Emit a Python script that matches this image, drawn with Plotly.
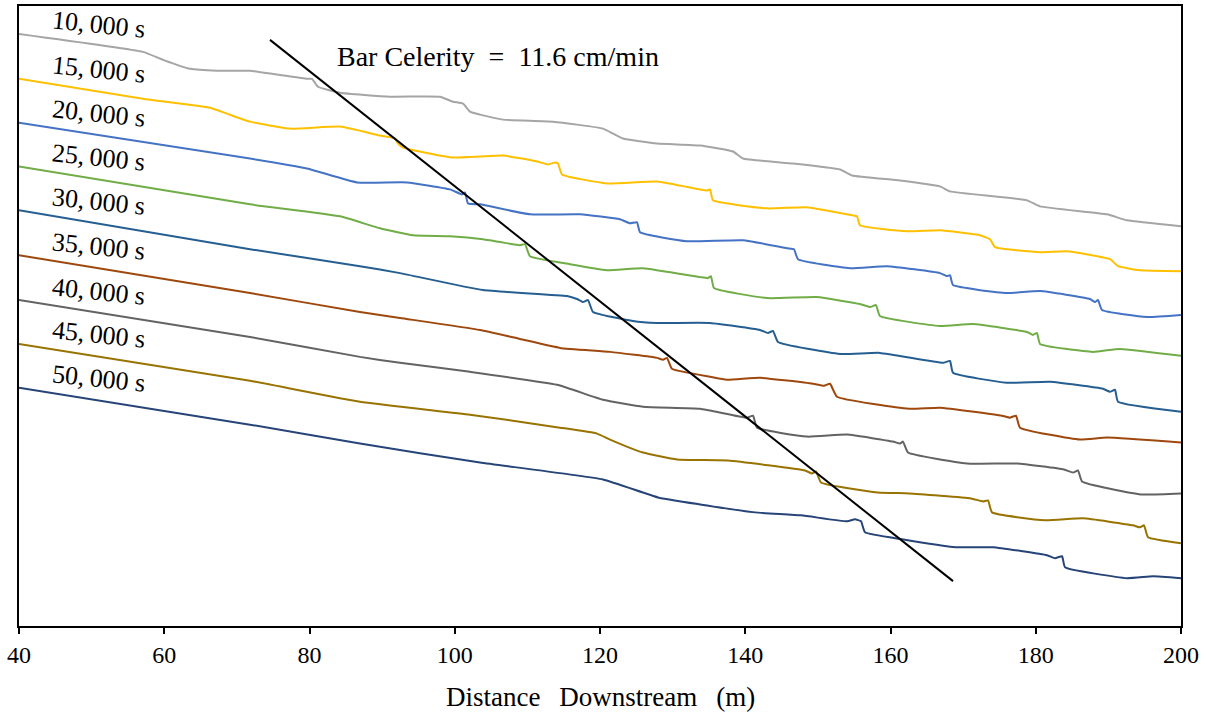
import plotly.graph_objects as go

# ---------------- data (distance downstream in m, bed elevation in arbitrary units) -------------
labels = ["10,000 s", "15,000 s", "20,000 s", "25,000 s", "30,000 s",
          "35,000 s", "40,000 s", "45,000 s", "50,000 s"]
colors = ["#A5A5A5", "#FFC000", "#4472C4", "#70AD47", "#255E91",
          "#9E480E", "#636363", "#997300", "#264478"]

x_10000 = [40.0, 57.07, 59.83, 63.55, 67.26, 71.81, 79.66, 80.34, 81.17, 84.20, 91.08, 97.97,
           99.76, 101.14, 102.10, 103.48, 106.64, 113.53, 120.41, 121.79, 123.17, 127.85, 133.77,
           138.31, 139.69, 146.57, 153.05, 154.70, 161.31, 166.81, 168.19, 178.80, 180.59,
           189.81, 192.56, 200.0]
z_10000 = [594, 576, 568, 559, 557, 557, 549, 549, 541, 535, 531, 531, 526, 524, 516, 513, 508,
           506, 499, 494, 489, 484, 482, 476, 469, 464, 458, 452, 447, 441, 436, 427, 421, 413,
           407, 401]

x_15000 = [40.0, 57.07, 66.30, 68.64, 71.81, 77.31, 84.20, 89.71, 91.77, 92.19, 92.87, 99.76,
           103.48, 106.64, 111.33, 112.84, 113.80, 114.22, 114.77, 120.96, 127.85, 133.77,
           134.73, 135.15, 135.56, 143.00, 148.50, 154.01, 154.84, 155.39, 155.80, 162.27,
           166.81, 172.32, 173.70, 174.39, 180.59, 184.30, 190.22, 191.33, 194.35, 200.0]
z_15000 = [549, 529, 520, 514, 506, 499, 501, 492, 489, 484, 480, 470, 471, 472, 466, 463, 465,
           464, 453, 444, 446, 438, 437, 438, 427, 419, 420, 413, 412, 411, 402, 396, 397, 392,
           388, 380, 375, 376, 368, 361, 357, 356]

x_20000 = [40.0, 71.81, 79.66, 86.54, 93.43, 99.35, 101.00, 101.41, 101.82, 103.48, 110.36,
           117.25, 122.75, 124.13, 125.10, 125.51, 131.98, 139.69, 145.75, 146.71, 147.26,
           154.42, 159.52, 166.81, 167.78, 168.19, 168.61, 176.04, 180.59, 187.47, 188.16,
           188.57, 189.12, 195.32, 200.0]
z_20000 = [505, 469, 459, 445, 445, 438, 433, 435, 424, 423, 413, 413, 408, 404, 405, 395, 386,
           387, 379, 378, 368, 359, 361, 354, 351, 352, 342, 334, 336, 328, 325, 327, 317, 310,
           312]

x_25000 = [40.0, 71.81, 84.20, 89.71, 94.25, 99.35, 103.89, 108.02, 108.98, 109.67, 110.36,
           115.87, 120.96, 125.92, 133.77, 134.87, 135.28, 135.70, 143.00, 149.88, 155.80,
           157.18, 158.00, 158.55, 166.81, 171.36, 178.80, 179.62, 180.17, 180.59, 187.88,
           191.60, 200.0]
z_25000 = [461, 423, 411, 399, 392, 391, 388, 383, 382, 383, 371, 363, 357, 359, 350, 349, 351,
           339, 329, 330, 323, 320, 322, 311, 301, 303, 295, 292, 294, 283, 275, 278, 271]

x_30000 = [40.0, 71.81, 86.95, 92.46, 103.89, 115.46, 116.83, 117.66, 118.35, 119.04, 124.54,
           127.85, 135.15, 142.03, 143.13, 143.82, 144.51, 153.05, 158.55, 167.23, 168.19,
           168.61, 176.04, 181.96, 189.26, 190.22, 190.91, 191.33, 200.0]
z_30000 = [417, 378, 361, 354, 337, 331, 328, 325, 327, 315, 306, 304, 304, 297, 294, 296, 285,
           273, 274, 264, 266, 254, 244, 245, 238, 235, 237, 225, 215]

x_35000 = [40.0, 71.81, 86.95, 92.46, 103.48, 108.98, 114.49, 121.38, 127.85, 128.68, 129.23,
           129.91, 135.15, 137.49, 142.03, 149.33, 150.84, 151.67, 152.63, 162.55, 166.81,
           175.35, 176.45, 177.28, 177.83, 186.09, 189.81, 200.0]
z_35000 = [372, 334, 315, 309, 297, 288, 279, 275, 269, 267, 269, 258, 250, 247, 249, 243, 241,
           243, 230, 218, 219, 211, 209, 211, 199, 187, 189, 184]

x_40000 = [40.0, 71.81, 86.95, 92.46, 102.10, 114.08, 120.41, 125.92, 133.77, 140.24, 141.07,
           141.62, 148.50, 154.01, 160.34, 161.31, 161.72, 162.41, 170.53, 177.42, 183.89,
           185.13, 185.82, 186.37, 194.49, 200.0]
z_40000 = [327, 290, 270, 264, 255, 242, 227, 220, 218, 209, 211, 199, 190, 192, 185, 183, 185,
           174, 163, 163, 157, 154, 156, 145, 132, 133]

x_45000 = [40.0, 71.81, 86.95, 102.10, 114.49, 119.59, 121.38, 125.92, 130.60, 137.62, 148.23,
           149.19, 149.74, 150.43, 158.28, 162.55, 171.08, 172.74, 173.43, 173.98, 181.27,
           186.51, 193.39, 194.35, 194.91, 195.46, 200.0]
z_45000 = [283, 246, 225, 212, 199, 193, 187, 174, 167, 166, 156, 153, 155, 144, 134, 133, 128,
           125, 126, 114, 106, 108, 101, 99, 101, 89, 83]

x_50000 = [40.0, 71.81, 86.95, 103.48, 120.41, 127.99, 133.77, 141.34, 147.68, 154.01, 155.11,
           155.94, 156.49, 161.58, 169.02, 174.11, 181.55, 182.65, 183.62, 184.03, 192.56,
           196.14, 200.0]
z_50000 = [239, 202, 183, 164, 147, 129, 122, 114, 111, 105, 107, 105, 94, 87, 79, 79, 71, 68,
           70, 59, 48, 50, 48]

celerity_x = [74.56, 168.61]
celerity_z = [588, 45]
celerity_text = "Bar Celerity\u2002=\u200211.6 cm/min"

x_ticks = [40, 60, 80, 100, 120, 140, 160, 180, 200]
x_title = "Distance\u2002\u2009Downstream\u2002\u2009(m)"

series_x = [x_10000, x_15000, x_20000, x_25000, x_30000, x_35000, x_40000, x_45000, x_50000]
series_z = [z_10000, z_15000, z_20000, z_25000, z_30000, z_35000, z_40000, z_45000, z_50000]

# ---------------- figure ----------------
FONT = "Liberation Serif"
fig = go.Figure()
for lab, col, xs, zs in zip(labels, colors, series_x, series_z):
    fig.add_trace(go.Scatter(x=xs, y=zs, mode="lines", name=lab,
                             line=dict(color=col, width=2, shape="spline", smoothing=0.4),
                             hoverinfo="skip"))
    shown = lab.replace(",", ",\u2009")
    fig.add_annotation(x=50.9, y=zs[0] + 9, text=shown, showarrow=False, textangle=6,
                       xanchor="center", yanchor="middle",
                       font=dict(family=FONT, size=26, color="black"))

fig.add_trace(go.Scatter(x=celerity_x, y=celerity_z, mode="lines",
                         line=dict(color="black", width=2), hoverinfo="skip"))
fig.add_annotation(x=106.0, y=571, text=celerity_text, showarrow=False,
                   xanchor="center", yanchor="middle",
                   font=dict(family=FONT, size=28, color="black"))

fig.add_annotation(x=0.5, y=-0.114, xref="paper", yref="paper", text=x_title,
                   showarrow=False, xanchor="center", yanchor="middle",
                   font=dict(family=FONT, size=27, color="black"))

fig.update_layout(
    width=1206, height=717,
    margin=dict(l=19, r=25, t=4, b=91),
    paper_bgcolor="white", plot_bgcolor="white",
    showlegend=False,
    xaxis=dict(range=[40, 200], tickvals=x_ticks, ticks="outside", ticklen=6,
               tickwidth=1.5, tickcolor="black",
               showline=True, linecolor="black", linewidth=2, mirror=True,
               showgrid=False, zeroline=False,
               tickfont=dict(family=FONT, size=24, color="black")),
    yaxis=dict(range=[0, 622], showticklabels=False, ticks="",
               showline=True, linecolor="black", linewidth=2, mirror=True,
               showgrid=False, zeroline=False),
)

fig.write_html("out.html")
